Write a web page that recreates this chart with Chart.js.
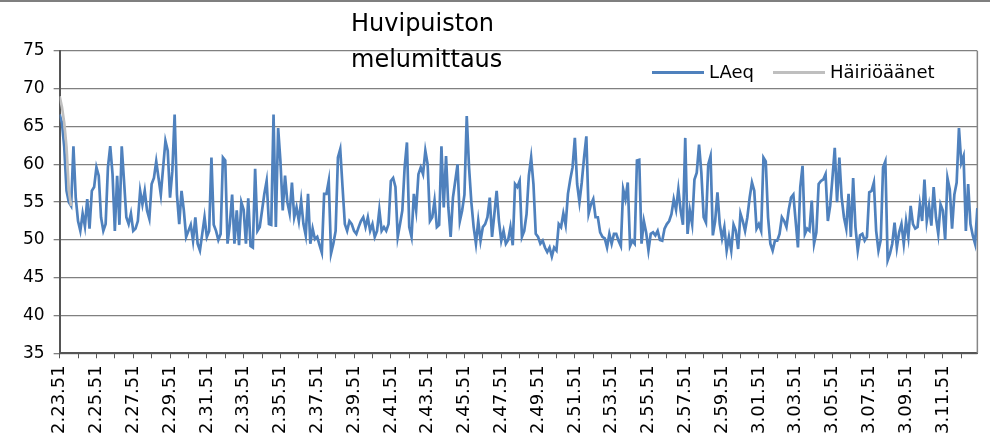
<!DOCTYPE html>
<html>
<head>
    <title>Huvipuiston melumittaus</title>
    <script src="https://cdn.jsdelivr.net/npm/chart.js@4.4.1/dist/chart.umd.min.js"></script>
    <style>
        body {
            margin: 0;
            background: #fff;
        }
        .wrap {
            position: relative;
            width: 990px;
            height: 441px;
            overflow: hidden;
            font-family: "DejaVu Sans", sans-serif;
        }
        .frame-top {
            position: absolute;
            left: 0;
            top: 0;
            width: 990px;
            height: 2px;
            background: #7f7f7f;
        }
        .graph-container {
            position: absolute;
            left: 0;
            top: 0;
            width: 990px;
            height: 441px;
        }
        .title {
            position: absolute;
            left: 351px;
            top: 5px;
            font-size: 24px;
            line-height: 36px;
            color: #000;
        }
        .legend {
            position: absolute;
            left: 652px;
            top: 62px;
            height: 20px;
            display: flex;
            align-items: center;
            font-size: 18px;
            line-height: 20px;
            color: #000;
        }
        .legend .item {
            display: flex;
            align-items: center;
            margin-right: 19px;
        }
        .legend .swatch {
            display: inline-block;
            width: 52px;
            height: 3px;
            margin-right: 5px;
        }
    </style>
</head>
<body>
    <div class="wrap">
        <div class="graph-container">
            <canvas id="graph"></canvas>
        </div>
        <div class="frame-top"></div>
        <div class="title">Huvipuiston<br>melumittaus</div>
        <div class="legend" id="legend"></div>
    </div>

    <script>
        // x axis labels, one every two minutes
        const timeLabels = [
            '2.23.51', '2.25.51', '2.27.51', '2.29.51', '2.31.51', '2.33.51', '2.35.51',
            '2.37.51', '2.39.51', '2.41.51', '2.43.51', '2.45.51', '2.47.51', '2.49.51',
            '2.51.51', '2.53.51', '2.55.51', '2.57.51', '2.59.51', '3.01.51', '3.03.51',
            '3.05.51', '3.07.51', '3.09.51', '3.11.51'
        ];

        // readings, 8 per minute starting at 2.23.51
        const samplesPerMinute = 8;

        const laeqValues = [
            66.6, 65.5, 62.3, 56.5, 55, 54.5, 62.4, 55.6, 52.5, 51.2,
            53.5, 51.8, 55.4, 51.5, 56.5, 57, 59.6, 58.5, 53, 51.2,
            52.1, 59.6, 62.4, 58.7, 51.2, 58.5, 52, 62.4, 57.8, 53,
            52.1, 53.5, 51.2, 51.5, 52.5, 56.5, 54.7, 56.5, 53.9, 52.8,
            57.4, 58.2, 60.4, 58.2, 56, 59.6, 63.1, 61.8, 55.6, 59.1,
            66.6, 56, 52.1, 56.5, 53.9, 50.4, 51.2, 52, 49.9, 53,
            49.5, 48.6, 50.8, 53, 50.4, 51.2, 60.9, 52, 51.2, 50,
            50.8, 60.9, 60.5, 49.5, 52.1, 56, 49.5, 53.9, 49.3, 55,

            54, 49.5, 55.5, 49.2, 49, 59.4, 51.2, 51.7, 53.9, 56.1,
            57.8, 52.1, 52, 66.6, 51.7, 64.8, 60.4, 53.9, 58.5, 55,
            53.5, 57.6, 53, 54.3, 52.5, 55.2, 52.1, 50.6, 56.1, 49.5,
            51.5, 50.1, 50.4, 49.3, 48.3, 56.1, 56.1, 57.8, 48.2, 49.5,
            51.2, 60.9, 62, 57, 52.1, 51.2, 52.5, 52.1, 51.2, 50.8,
            51.7, 52.5, 53, 51.7, 53, 51.2, 52.1, 50.4, 51.2, 54,
            51.2, 51.7, 51.2, 52.1, 57.8, 58.2, 57, 50.4, 52.1, 53.9,
            59.6, 62.9, 51.7, 50.4, 56.1, 53.9, 58.7, 59.6, 58.7, 61.8,

            60, 52.5, 53, 55.2, 51.7, 52, 62.4, 54.3, 61.1, 54.3,
            50.4, 55.6, 57.8, 60, 52.5, 53.9, 56, 66.4, 59.6, 55,
            51.7, 49.5, 52.5, 49.9, 51.7, 52.1, 53, 55.6, 50.4, 53.4,
            56.5, 52.5, 49.9, 51.2, 49.5, 50, 51.7, 49.3, 57.4, 57,
            57.8, 50.4, 51.2, 53.4, 58.5, 60.9, 57.4, 50.8, 50.4, 49.5,
            49.9, 49, 48.4, 49, 47.8, 49, 48.6, 52.1, 51.7, 53.5,
            52, 56.1, 58, 59.6, 63.5, 57.4, 55, 57.6, 60.9, 63.7,
            53.5, 54.7, 55.4, 53, 53, 51, 50.4, 50.2, 49, 50.8,

            49.5, 50.8, 50.8, 49.9, 49.2, 56.7, 55.4, 57.6, 49.2, 49.9,
            49.5, 60.5, 60.6, 49.5, 52.5, 51, 48.6, 50.8, 51, 50.6,
            51.2, 50, 49.9, 51.5, 52.1, 52.5, 53.4, 55.4, 54, 56.7,
            53.9, 52, 63.5, 50.8, 53.9, 52.1, 58, 58.9, 62.6, 58.9,
            53, 52.3, 60, 61.1, 50.6, 52.5, 56.3, 52.1, 50.2, 51.7,
            48.6, 50.4, 48.6, 52, 51.2, 48.8, 53.5, 52.5, 51.2, 53,
            55.6, 57.6, 56.5, 51.5, 52.1, 51.2, 60.9, 60.4, 53, 49.5,
            48.6, 49.9, 49.9, 50.8, 53, 52.5, 51.7, 54, 55.6, 56,

            52.5, 49, 57, 59.8, 50.8, 51.5, 51.2, 55.2, 49.5, 51,
            57.4, 57.8, 58, 58.7, 52.5, 54.5, 58.2, 62.2, 55, 60.9,
            55.6, 53, 51.5, 56.1, 50.4, 58.2, 51.7, 48.6, 50.6, 50.8,
            49.9, 50.4, 56.3, 56.5, 57.6, 51.2, 48.6, 50, 59.6, 60.4,
            47.3, 48.2, 49.5, 52.3, 49, 51, 52.1, 49.5, 52.5, 50.4,
            54.5, 52.1, 51.5, 51.7, 54.7, 52.5, 58, 52.5, 54.5, 51.9,
            57, 53, 50.8, 54.7, 53.9, 50, 58.2, 56.7, 51.5, 56,
            57.6, 64.8, 60.2, 61.1, 51.2, 57.4, 52.1, 50.6, 49.5, 54.2
        ];

        // disturbance noise, only at the very start
        const hairioValues = [69, 67.6, 65.5, 62.3, 56.5, 54.5];

        const seriesNames = ['LAeq', 'Häiriöäänet'];
        const seriesColors = ['#4F81BD', '#BFBFBF'];

        const toPoints = values => values.map((v, i) => ({ x: i / samplesPerMinute, y: v }));
        const lastX = (laeqValues.length - 1) / samplesPerMinute;

        // right edge of the plot area
        const plotBorder = {
            id: 'plotBorder',
            beforeDatasetsDraw(chart) {
                const { ctx, chartArea: a } = chart;
                ctx.save();
                ctx.strokeStyle = '#868686';
                ctx.lineWidth = 1.5;
                ctx.beginPath();
                ctx.moveTo(a.right, a.top);
                ctx.lineTo(a.right, a.bottom);
                ctx.stroke();
                ctx.restore();
            }
        };

        const ctx = document.getElementById('graph').getContext('2d');
        const chart = new Chart(ctx, {
            type: 'line',
            data: {
                datasets: [
                    {
                        label: seriesNames[0],
                        data: toPoints(laeqValues),
                        borderColor: seriesColors[0],
                        borderWidth: 2.7,
                        pointRadius: 0,
                        tension: 0,
                        order: 1
                    },
                    {
                        label: seriesNames[1],
                        data: toPoints(hairioValues),
                        borderColor: seriesColors[1],
                        borderWidth: 2.7,
                        pointRadius: 0,
                        tension: 0,
                        order: 0
                    }
                ]
            },
            options: {
                responsive: true,
                maintainAspectRatio: false,
                animation: false,
                layout: {
                    padding: { left: 14, top: 51, right: 8, bottom: 0 }
                },
                plugins: {
                    legend: { display: false },
                    title: { display: false },
                    tooltip: { enabled: false }
                },
                scales: {
                    x: {
                        type: 'linear',
                        min: 0,
                        max: lastX,
                        grid: {
                            drawOnChartArea: false,
                            tickLength: 5,
                            tickColor: '#555'
                        },
                        border: { color: '#555', width: 2 },
                        ticks: {
                            stepSize: 1,
                            includeBounds: false,
                            autoSkip: false,
                            maxRotation: 90,
                            minRotation: 90,
                            padding: 7,
                            labelOffset: 0,
                            color: '#000',
                            font: { family: 'DejaVu Sans', size: 18 },
                            callback: value => value % 2 === 0 ? timeLabels[value / 2] : ''
                        }
                    },
                    y: {
                        min: 35,
                        max: 75,
                        grid: {
                            color: '#808080',
                            lineWidth: 1.3,
                            tickLength: 6
                        },
                        border: { color: '#555', width: 2 },
                        ticks: {
                            stepSize: 5,
                            padding: 9,
                            color: '#000',
                            font: { family: 'DejaVu Sans', size: 17 }
                        }
                    }
                }
            },
            plugins: [plotBorder]
        });

        // legend drawn as html so it can sit inside the plot area
        const legend = document.getElementById('legend');
        seriesNames.forEach((name, i) => {
            const item = document.createElement('span');
            item.className = 'item';
            const swatch = document.createElement('span');
            swatch.className = 'swatch';
            swatch.style.background = seriesColors[i];
            item.appendChild(swatch);
            item.appendChild(document.createTextNode(name));
            legend.appendChild(item);
        });
    </script>
</body>
</html>
